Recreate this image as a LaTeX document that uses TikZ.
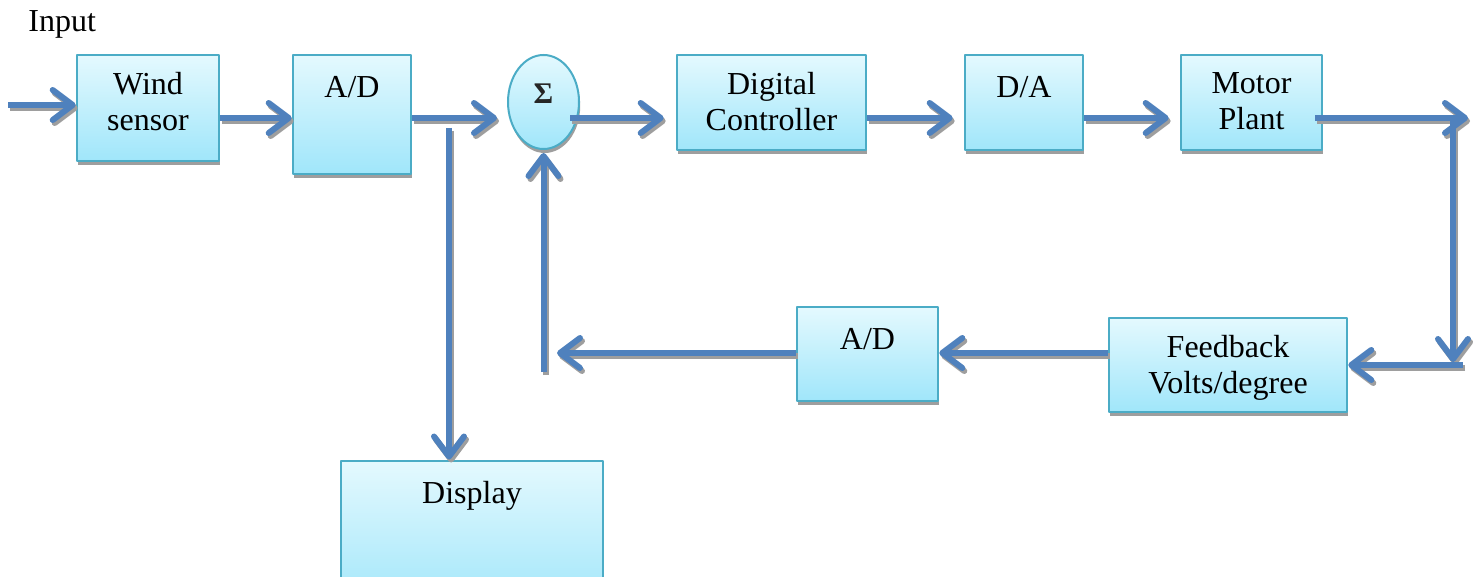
\documentclass[tikz,border=0pt]{standalone}
\usepackage{fontspec}
\setmainfont{Liberation Serif}
\usetikzlibrary{arrows.meta,shapes.geometric,shadows}

\definecolor{lineblue}{RGB}{79,129,189}
\definecolor{boxedge}{RGB}{75,172,198}
\definecolor{boxtop}{RGB}{228,249,254}
\definecolor{boxbot}{RGB}{160,230,250}
\definecolor{shadowgray}{RGB}{158,158,158}

\begin{document}
\begin{tikzpicture}[x=0.5pt,y=-0.5pt,line join=round,
                    font=\fontsize{16}{18}\selectfont]
  \tikzstyle{blk}=[rectangle,draw=boxedge,line width=1.3pt,top color=boxtop,bottom color=boxbot,
                   inner sep=0pt,drop shadow={shadow xshift=0.6pt,shadow yshift=-2pt,fill=shadowgray,opacity=1}]
  \tikzstyle{lbl}=[align=center,inner sep=0pt,anchor=north,yshift=-9pt,execute at begin node=\strut]
  \tikzstyle{flow}=[line width=3pt,-{Straight Barb[length=10pt,width=15pt,round]}]

  \useasboundingbox (0,0) rectangle (1476,577);

  \node[anchor=base west,inner sep=0pt] (input) at (28,32) {Input};

  % forward path
  \node[blk,minimum width=71pt,minimum height=53pt]     (wind) at (148,108)    {};
  \node[blk,minimum width=59pt,minimum height=59.5pt]   (ad1)  at (352,114.5)  {};
  \node[blk,ellipse,line width=1pt,minimum width=35.5pt,minimum height=47pt] (sig) at (543.5,102) {};
  \node[blk,minimum width=94.5pt,minimum height=47.5pt] (dc)   at (771.5,102.5) {};
  \node[blk,minimum width=59pt,minimum height=47.5pt]   (da)   at (1024,102.5)  {};
  \node[blk,minimum width=70.5pt,minimum height=47.5pt] (mp)   at (1251.5,102.5) {};

  % feedback path and display
  \node[blk,minimum width=119pt,minimum height=47pt]    (fb)   at (1228,365)   {};
  \node[blk,minimum width=70.5pt,minimum height=47pt]   (ad2)  at (867.5,354)  {};
  \node[blk,minimum width=131pt,minimum height=75pt,anchor=north] (disp) at (472,459.5) {};

  \node[lbl] (windtxt) at (wind.north) {Wind\\sensor};
  \node[lbl] (ad1txt)  at (ad1.north)  {A/D};
  \node[lbl] (dctxt)   at (dc.north)   {Digital\\Controller};
  \node[lbl] (datxt)   at (da.north)   {D/A};
  \node[lbl] (mptxt)   at (mp.north)   {Motor\\Plant};
  \node[lbl] (fbtxt)   at (fb.north)   {Feedback\\Volts/degree};
  \node[lbl] (ad2txt)  at (ad2.north)  {A/D};
  \node[lbl] (disptxt) at (disp.north) {Display};
  \node[anchor=base,inner sep=0pt,text=black!85,font=\fontsize{15}{18}\selectfont\bfseries]
       (sigtxt) at (543.5,104) {Σ};

  \coordinate (src)  at (8,105);
  \coordinate (axis) at (0,118);
  \coordinate (tap)  at (449,128);
  \coordinate (out)  at (1468,118);
  \coordinate (drop) at (1453,120);
  \coordinate (ret)  at (1463,365);
  \coordinate (fbk)  at (557,353);
  \coordinate (rise) at (543.5,372);

  % gray copy first, then the blue lines on top
  \foreach \col/\dx/\dy in {shadowgray/1pt/-1.5pt, lineblue/0pt/0pt} {
    \begin{scope}[color=\col,transform canvas={xshift=\dx,yshift=\dy}]
      \draw[flow] (src) -- (src -| wind.west);
      \draw[flow] (wind.east |- axis) -- (ad1.west |- axis);
      \draw[flow,shorten >=5pt] (ad1.east |- axis) -- (sig.west |- axis);
      \draw[flow,shorten <=-5pt,shorten >=6pt] (sig.east |- axis) -- (dc.west |- axis);
      \draw[flow,shorten >=5.5pt] (dc.east |- axis) -- (da.west |- axis);
      \draw[flow,shorten >=5.5pt] (da.east |- axis) -- (mp.west |- axis);
      \draw[flow,shorten <=-4pt] (mp.east |- axis) -- (out);
      \draw[flow,shorten >=1.5pt] (drop) -- (drop |- ret);
      \draw[flow] (ret) -- (fb.east |- ret);
      \draw[flow] (fb.west |- fbk) -- (ad2.east |- fbk);
      \draw[flow] (ad2.west |- fbk) -- (fbk);
      \draw[flow,shorten >=1.5pt] (rise) -- (sig.south);
      \draw[flow] (tap) -- (tap |- disp.north);
    \end{scope}
  }
\end{tikzpicture}
\end{document}
